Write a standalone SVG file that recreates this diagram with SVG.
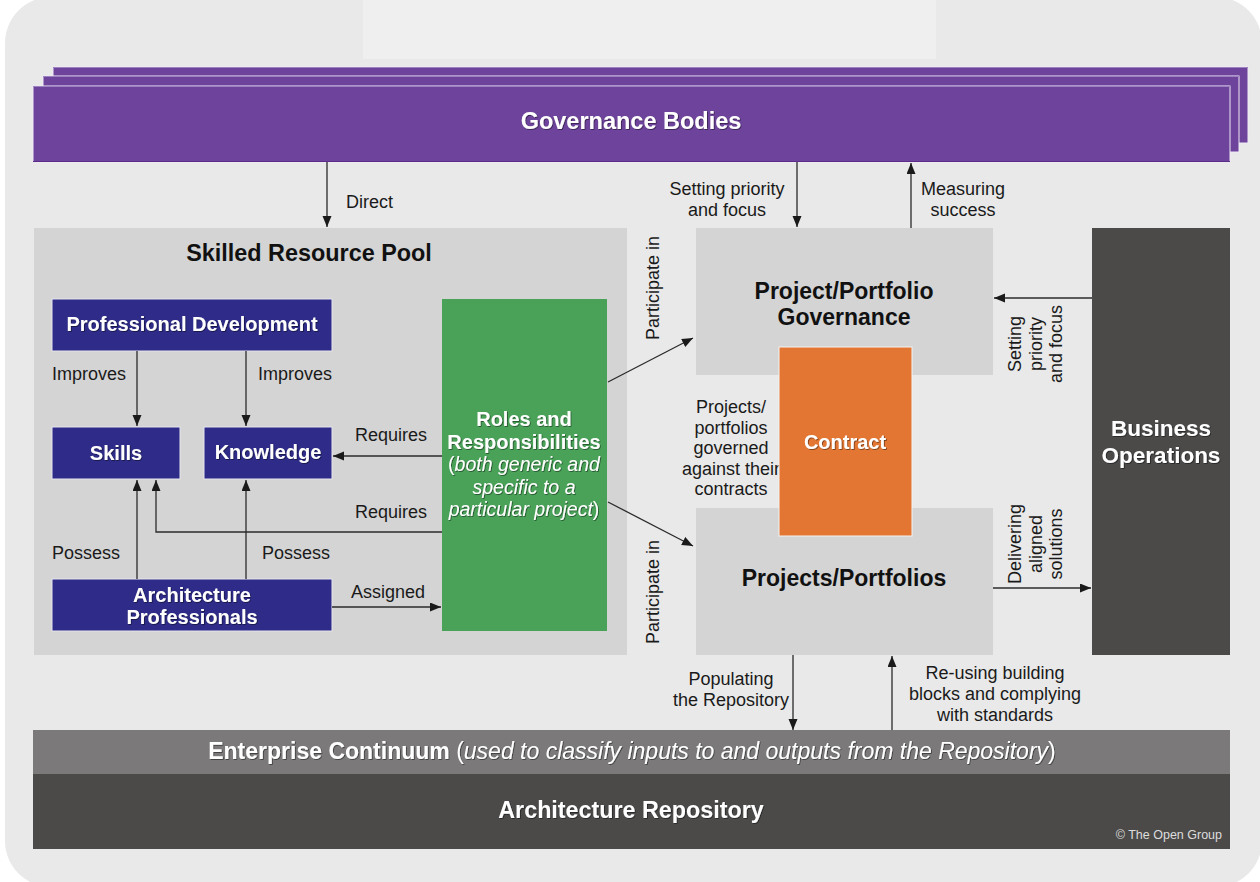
<svg xmlns="http://www.w3.org/2000/svg" width="1260" height="882" viewBox="0 0 1260 882">
<defs>
<marker id="ah" markerUnits="userSpaceOnUse" markerWidth="12" markerHeight="10" refX="11" refY="4.5" orient="auto">
<path d="M0,0 L11,4.5 L0,9 z" fill="#1a1a1a"/>
</marker>
<filter id="sh" x="-5%" y="-20%" width="110%" height="140%">
<feDropShadow dx="0.8" dy="0.8" stdDeviation="0.6" flood-color="#000" flood-opacity="0.55"/>
</filter>
<style>
text{font-family:"Liberation Sans",Arial,Helvetica,sans-serif;}
.lbl{font-size:18px;fill:#1a1a1a;}
.lblm{font-size:18px;fill:#1a1a1a;text-anchor:middle;}
.wb{font-weight:bold;fill:#fff;text-anchor:middle;}
.bb{font-weight:bold;fill:#111;text-anchor:middle;}
.navy{fill:#2e2c88;stroke:#e4e4ee;stroke-width:1;}
.gray{fill:#d4d4d4;}
.conn path{fill:none;stroke:#2b2b2b;stroke-width:1.3;marker-end:url(#ah);}
.purple{fill:#6e439b;stroke:#efe9f5;stroke-width:1;}
</style>
</defs>
<rect x="0" y="0" width="1260" height="882" fill="#ffffff"/>
<rect x="5" y="-3" width="1257" height="890" rx="46" ry="46" fill="#e9e9e9"/>
<rect x="363" y="0" width="573" height="59" fill="#efefef"/>

<g id="governance-bodies">
<rect class="purple" x="53" y="67" width="1195" height="76"/>
<line x1="53" y1="67.5" x2="1248" y2="67.5" stroke="#9c82c1" stroke-width="1"/>
<rect class="purple" x="43" y="76" width="1196" height="76"/>
<line x1="43" y1="76.5" x2="1239" y2="76.5" stroke="#9c82c1" stroke-width="1"/>
<rect class="purple" x="33" y="86" width="1197" height="76"/>
<line x1="33" y1="86.5" x2="1230" y2="86.5" stroke="#9c82c1" stroke-width="1"/>
<line x1="33" y1="161.5" x2="1230" y2="161.5" stroke="#5a2d8c" stroke-width="1"/>
<text class="wb" x="631" y="129" font-size="23.5" filter="url(#sh)">Governance Bodies</text>
</g>

<g id="skilled-resource-pool">
<rect class="gray" x="34" y="228" width="593" height="427"/>
<text class="bb" x="309" y="261" font-size="23.4">Skilled Resource Pool</text>
</g>

<g id="professional-development">
<rect class="navy" x="52" y="299" width="280" height="52"/>
<text class="wb" x="192" y="331" font-size="20" filter="url(#sh)">Professional Development</text>
</g>

<g id="skills">
<rect class="navy" x="52" y="427" width="128" height="52"/>
<text class="wb" x="116" y="460" font-size="20" filter="url(#sh)">Skills</text>
</g>

<g id="knowledge">
<rect class="navy" x="204" y="427" width="128" height="52"/>
<text class="wb" x="268" y="459" font-size="20" filter="url(#sh)">Knowledge</text>
</g>

<g id="architecture-professionals">
<rect class="navy" x="52" y="579" width="280" height="52"/>
<text class="wb" x="192" y="602" font-size="20" filter="url(#sh)">Architecture</text>
<text class="wb" x="192" y="624" font-size="20" filter="url(#sh)">Professionals</text>
</g>

<g id="roles-and-responsibilities">
<rect x="442" y="299" width="165" height="332" fill="#4aa259"/>
<text class="wb" x="524" y="426" font-size="20" filter="url(#sh)">Roles and</text>
<text class="wb" x="524" y="449" font-size="20" filter="url(#sh)">Responsibilities</text>
<text x="524" y="471" font-size="19.5" fill="#fff" text-anchor="middle" filter="url(#sh)">(<tspan font-style="italic">both generic and</tspan></text>
<text x="524" y="494" font-size="19.5" fill="#fff" text-anchor="middle" font-style="italic" filter="url(#sh)">specific to a</text>
<text x="524" y="516" font-size="19.5" fill="#fff" text-anchor="middle" filter="url(#sh)"><tspan font-style="italic">particular project</tspan>)</text>
</g>

<g id="project-portfolio-governance">
<rect class="gray" x="696" y="228" width="297" height="147"/>
<text class="bb" x="844" y="299" font-size="23">Project/Portfolio</text>
<text class="bb" x="844" y="325" font-size="23">Governance</text>
</g>

<g id="projects-portfolios">
<rect class="gray" x="696" y="508" width="297" height="147"/>
<text class="bb" x="844" y="586" font-size="23">Projects/Portfolios</text>
</g>

<g id="contract-label">
<text class="lblm" x="731" y="413">Projects/</text>
<text class="lblm" x="731" y="434">portfolios</text>
<text class="lblm" x="731" y="454">governed</text>
<text class="lblm" x="731" y="475">against their</text>
<text class="lblm" x="731" y="495">contracts</text>
</g>

<g id="contract">
<rect x="779" y="347" width="133" height="189" fill="#e47633" stroke="#f3f3f3" stroke-width="1"/>
<text class="wb" x="845" y="449" font-size="20" filter="url(#sh)">Contract</text>
</g>

<g id="business-operations">
<rect x="1092" y="228" width="138" height="427" fill="#4b4a49"/>
<text class="wb" x="1161" y="436" font-size="22.5" filter="url(#sh)">Business</text>
<text class="wb" x="1161" y="463" font-size="22.5" filter="url(#sh)">Operations</text>
</g>

<g id="enterprise-continuum">
<rect x="33" y="730" width="1197" height="44" fill="#7b7979"/>
<text x="632" y="759" font-size="23" fill="#fff" text-anchor="middle" filter="url(#sh)"><tspan font-weight="bold">Enterprise Continuum</tspan> (<tspan font-style="italic">used to classify inputs to and outputs from the Repository</tspan>)</text>
</g>

<g id="architecture-repository">
<rect x="33" y="774" width="1197" height="75" fill="#4b4a49"/>
<text class="wb" x="631" y="818" font-size="23.3" filter="url(#sh)">Architecture Repository</text>
<text x="1222" y="839" font-size="12.5" fill="#ddd" text-anchor="end">© The Open Group</text>
</g>

<g id="connectors" class="conn">
<path d="M327,162 V227"/>
<path d="M797,162 V227"/>
<path d="M911,228 V163"/>
<path d="M1092,298 H994"/>
<path d="M993,588 H1091"/>
<path d="M608,382 L693,338"/>
<path d="M608,502 L693,546"/>
<path d="M793,655 V730"/>
<path d="M892,730 V656"/>
<path d="M137,351 V426"/>
<path d="M246,351 V426"/>
<path d="M442,456 H333"/>
<path d="M442,532 H156 V480"/>
<path d="M137,579 V480"/>
<path d="M246,579 V480"/>
<path d="M332,607 H441"/>
</g>

<g id="connector-labels">
<text class="lbl" x="346" y="208">Direct</text>
<text class="lblm" x="727" y="195">Setting priority</text>
<text class="lblm" x="727" y="216">and focus</text>
<text class="lblm" x="963" y="195">Measuring</text>
<text class="lblm" x="963" y="216">success</text>
<text class="lbl" x="52" y="380">Improves</text>
<text class="lbl" x="258" y="380">Improves</text>
<text class="lbl" x="355" y="441">Requires</text>
<text class="lbl" x="355" y="518">Requires</text>
<text class="lbl" x="52" y="559">Possess</text>
<text class="lbl" x="262" y="559">Possess</text>
<text class="lbl" x="351" y="598">Assigned</text>
<text class="lblm" transform="translate(659,288) rotate(-90)" x="0" y="0">Participate in</text>
<text class="lblm" transform="translate(659,592) rotate(-90)" x="0" y="0">Participate in</text>
<text class="lblm" transform="translate(1021,344) rotate(-90)"><tspan x="0" y="0">Setting</tspan><tspan x="0" y="20.5">priority</tspan><tspan x="0" y="41">and focus</tspan></text>
<text class="lblm" transform="translate(1021,544) rotate(-90)"><tspan x="0" y="0">Delivering</tspan><tspan x="0" y="20.5">aligned</tspan><tspan x="0" y="41">solutions</tspan></text>
<text class="lblm" x="731" y="685">Populating</text>
<text class="lblm" x="731" y="706">the Repository</text>
<text class="lblm" x="995" y="679">Re-using building</text>
<text class="lblm" x="995" y="700">blocks and complying</text>
<text class="lblm" x="995" y="721">with standards</text>
</g>
</svg>
